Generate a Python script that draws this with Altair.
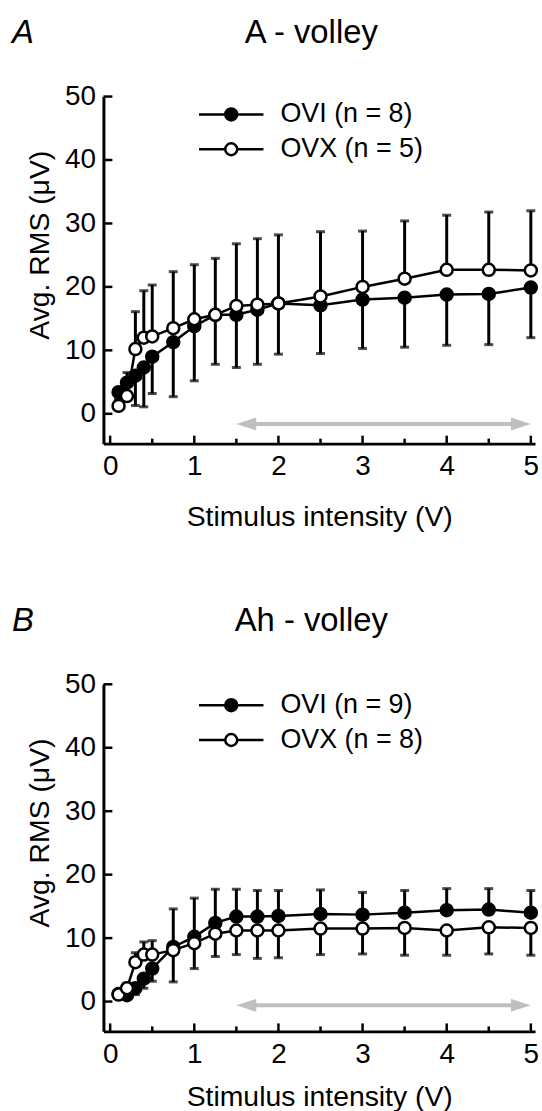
import altair as alt
import pandas as pd

# ---------------- data ----------------
x_vals = [0.1, 0.2, 0.3, 0.4, 0.5, 0.75, 1.0, 1.25, 1.5, 1.75, 2.0, 2.5, 3.0, 3.5, 4.0, 4.5, 5.0]

panel_letters = ["A", "B"]
panel_titles = ["A - volley", "Ah - volley"]
legend_labels_a = ["OVI (n = 8)", "OVX (n = 5)"]
legend_labels_b = ["OVI (n = 9)", "OVX (n = 8)"]

# Panel A (A - volley)
a_ovi = [3.4, 4.9, 6.0, 7.3, 9.0, 11.3, 13.8, 15.6, 15.6, 16.4, 17.4, 17.1, 18.0, 18.3, 18.8, 18.9, 19.9]
a_ovi_up = [0] * 17
a_ovi_down = [1.0, 2.4, 4.7, 6.2, 5.8, 8.6, 8.6, 7.8, 8.3, 8.6, 8.0, 7.6, 7.7, 7.8, 8.0, 8.0, 7.9]
a_ovx = [1.25, 2.8, 10.2, 12.0, 12.2, 13.5, 14.9, 15.6, 17.0, 17.2, 17.4, 18.5, 20.0, 21.3, 22.7, 22.7, 22.6]
a_ovx_up = [0.8, 3.7, 5.9, 7.4, 8.1, 8.9, 8.6, 8.9, 9.8, 10.4, 10.8, 10.2, 8.8, 9.1, 8.6, 9.1, 9.4]
a_ovx_down = [0] * 17

# Panel B (Ah - volley)
b_ovi = [1.2, 1.0, 2.1, 3.6, 5.2, 8.6, 10.2, 12.4, 13.4, 13.4, 13.5, 13.8, 13.7, 14.0, 14.4, 14.5, 14.0]
b_ovi_up = [0, 0, 0, 0, 0, 6.0, 6.1, 5.3, 4.3, 4.1, 4.0, 3.8, 3.5, 3.5, 3.4, 3.3, 3.5]
b_ovi_down = [0.5, 0.6, 1.0, 1.5, 2.0, 0, 0, 0, 0, 0, 0, 0, 0, 0, 0, 0, 0]
b_ovx = [1.1, 2.1, 6.2, 7.4, 7.4, 8.1, 9.2, 10.7, 11.2, 11.2, 11.2, 11.5, 11.5, 11.6, 11.2, 11.7, 11.6]
b_ovx_up = [0.5, 0.8, 1.5, 2.0, 2.2, 0, 0, 0, 0, 0, 0, 0, 0, 0, 0, 0, 0]
b_ovx_down = [0, 0, 0, 0, 0, 5.0, 4.0, 3.6, 3.8, 4.4, 4.3, 4.1, 4.0, 4.3, 3.9, 4.2, 4.3]

arrow_x = [1.5, 5.0]
arrow_y_a = -1.6
arrow_y_b = -0.6

x_major = [0, 1, 2, 3, 4, 5]
x_minor = [0.5, 1.5, 2.5, 3.5, 4.5]
y_major = [0, 10, 20, 30, 40, 50]
x_domain = [-0.08, 5.05]
y_domain = [-4.7, 50]

FONT = "Liberation Sans"
W, H = 434, 349
GRAY = "#bfbfbf"

LEG_PATH = "M-5.4,0L-1,0M1,0L5.4,0M1,0A1,1,0,1,1,-1,0A1,1,0,1,1,1,0Z"
HEAD_L = "M0,0L2,-0.65L2,0.65Z"
HEAD_R = "M0,0L-2,-0.65L-2,0.65Z"


def panel(letter, title, labels, ovi, ovi_up, ovi_down, ovx, ovx_up, ovx_down, arrow_y, legend_y, xtitle_pad):
    rows, caps = [], []
    for lab, m, up, dn in [(labels[0], ovi, ovi_up, ovi_down), (labels[1], ovx, ovx_up, ovx_down)]:
        for xv, mv, u, d in zip(x_vals, m, up, dn):
            rows.append(dict(x=xv, y=mv, series=lab, lo=mv - d, hi=mv + u))
            if u > 0:
                caps.append(dict(x=xv, y=mv + u))
            if d > 0:
                caps.append(dict(x=xv, y=mv - d))
    df = pd.DataFrame(rows)
    caps_df = pd.DataFrame(caps)

    xs = alt.Scale(domain=x_domain, nice=False, zero=False)
    ys = alt.Scale(domain=y_domain, nice=False, zero=False)

    x_axis = alt.Axis(values=x_major, format="d", ticks=False, tickSize=0, grid=False,
                      domainColor="black", domainWidth=3, labelFontSize=28, labelPadding=9,
                      labelColor="black", title="Stimulus intensity (V)", titleFontSize=28.5,
                      titleFontWeight="normal", titleColor="black", titlePadding=xtitle_pad, labelFlush=False)
    y_axis = alt.Axis(values=y_major, ticks=False, tickSize=0, grid=False,
                      domainColor="black", domainWidth=3, labelFontSize=28, labelPadding=8,
                      labelColor="black", title="Avg. RMS (\u03bcV)", titleFontSize=28.5,
                      titleFontWeight="normal", titleColor="black", titlePadding=10, titleY=149)

    def X(f):
        return alt.X(f, scale=xs, axis=x_axis)

    def Y(f):
        return alt.Y(f, scale=ys, axis=y_axis)

    base = alt.Chart(df)

    lines = base.mark_line(color="black", strokeWidth=2.5).encode(
        x=X("x:Q"), y=Y("y:Q"), detail="series:N", order="x:Q",
    )
    bars = base.mark_rule(color="black", strokeWidth=3).encode(
        x=X("x:Q"), y=Y("lo:Q"), y2="hi:Q",
    )
    capmarks = alt.Chart(caps_df).mark_tick(color="black", orient="horizontal", size=9, thickness=3).encode(
        x=X("x:Q"), y=Y("y:Q"),
    )
    pts = base.mark_point(shape="circle", filled=True, size=145, stroke="black", strokeWidth=2.5, opacity=1).encode(
        x=X("x:Q"), y=Y("y:Q"),
        fill=alt.Fill("series:N", scale=alt.Scale(domain=labels, range=["black", "white"]),
                      legend=alt.Legend(title=None, orient="none", legendX=115, legendY=legend_y,
                                        symbolType=LEG_PATH, symbolSize=144, symbolStrokeColor="black",
                                        symbolStrokeWidth=2.5, labelFontSize=27, labelFont=FONT,
                                        labelColor="black", labelOffset=36, rowPadding=7, padding=0)),
    )

    arrow_df = pd.DataFrame({"x1": [arrow_x[0]], "x2": [arrow_x[1]], "y": [arrow_y]})
    shaft = alt.Chart(arrow_df).mark_rule(color=GRAY, strokeWidth=4, xOffset=8, x2Offset=-8).encode(
        x=X("x1:Q"), x2="x2:Q", y=Y("y:Q"),
    )
    heads_df = pd.DataFrame({"x": arrow_x, "y": [arrow_y, arrow_y], "side": ["left", "right"]})
    heads = alt.Chart(heads_df).mark_point(filled=True, color=GRAY, size=400, opacity=1).encode(
        x=X("x:Q"), y=Y("y:Q"),
        shape=alt.Shape("side:N", scale=alt.Scale(domain=["left", "right"], range=[HEAD_L, HEAD_R]), legend=None),
    )

    xt_major = alt.Chart(pd.DataFrame({"t": x_major})).mark_rule(color="black", strokeWidth=2.5).encode(
        x=X("t:Q"), y=alt.value(H), y2=alt.value(H - 8))
    xt_minor = alt.Chart(pd.DataFrame({"t": x_minor})).mark_rule(color="black", strokeWidth=2.5).encode(
        x=X("t:Q"), y=alt.value(H), y2=alt.value(H - 5))
    yt = alt.Chart(pd.DataFrame({"t": y_major})).mark_rule(color="black", strokeWidth=2.5).encode(
        y=Y("t:Q"), x=alt.value(0), x2=alt.value(9))

    txt_df = pd.DataFrame({"letter": [letter], "title": [title]})
    letter_mark = alt.Chart(txt_df).mark_text(font=FONT, fontSize=33, fontStyle="italic", align="left",
                                              baseline="alphabetic", color="black").encode(
        text="letter:N", x=alt.value(-92), y=alt.value(-54))
    title_mark = alt.Chart(txt_df).mark_text(font=FONT, fontSize=33, align="center",
                                             baseline="alphabetic", color="black").encode(
        text="title:N", x=alt.value(209), y=alt.value(-54))

    return alt.layer(shaft, heads, bars, capmarks, lines, pts, xt_major, xt_minor, yt,
                     letter_mark, title_mark).properties(width=W, height=H)


pa = panel(panel_letters[0], panel_titles[0], legend_labels_a, a_ovi, a_ovi_up, a_ovi_down,
           a_ovx, a_ovx_up, a_ovx_down, arrow_y_a, 4.5, 22)
pb = panel(panel_letters[1], panel_titles[1], legend_labels_b, b_ovi, b_ovi_up, b_ovi_down,
           b_ovx, b_ovx_up, b_ovx_down, arrow_y_b, 7.5, 15)

chart = alt.vconcat(pa, pb, spacing=74).resolve_scale(fill="independent").resolve_legend(
    fill="independent").properties(
    padding={"left": 12, "top": 14, "right": 0, "bottom": 0}
).configure(font=FONT).configure_view(stroke=None).configure_axis(labelFont=FONT, titleFont=FONT)

chart.save("out.html", embed_options={"renderer": "svg", "actions": False})
